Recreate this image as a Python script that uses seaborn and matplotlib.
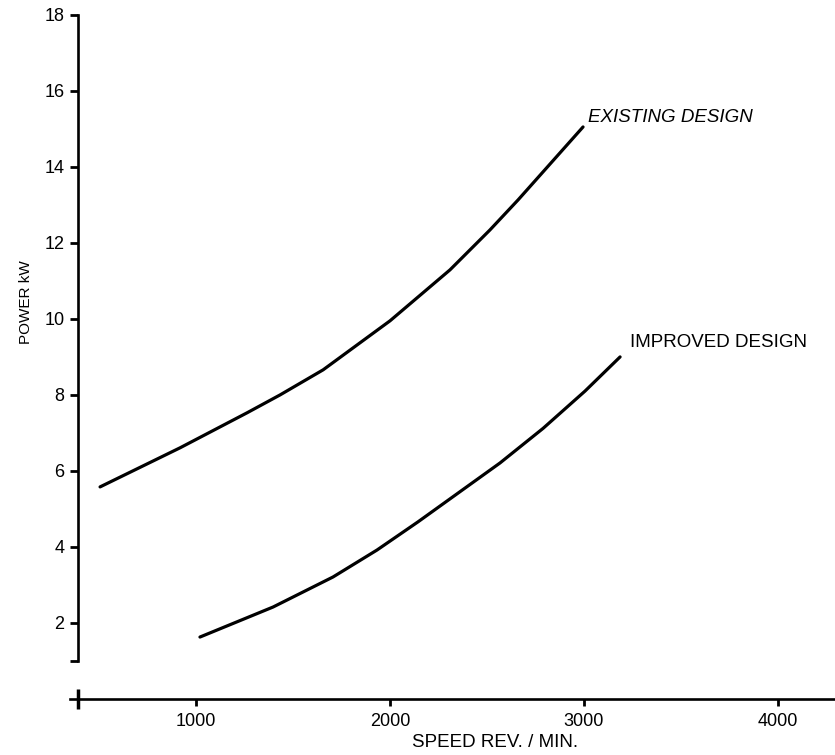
import matplotlib
matplotlib.use("Agg")
import matplotlib.pyplot as plt
import seaborn as sns
import pandas as pd

# values
existing_speed = [505, 918, 1263, 1433, 1655, 2000, 2309, 2515, 2660, 2995]
existing_power = [5.58, 6.61, 7.53, 8.0, 8.66, 9.95, 11.29, 12.34, 13.13, 15.05]

improved_speed = [1020, 1397, 1706, 1933, 2144, 2567, 2789, 3005, 3186]
improved_power = [1.63, 2.42, 3.21, 3.92, 4.66, 6.21, 7.12, 8.1, 9.0]

x_ticks = [1000, 2000, 3000, 4000]
y_ticks = [2, 4, 6, 8, 10, 12, 14, 16, 18]

existing = pd.DataFrame({"speed": existing_speed, "power": existing_power})
improved = pd.DataFrame({"speed": improved_speed, "power": improved_power})

sns.set_style("white")
plt.rcParams["font.family"] = ["Liberation Sans", "DejaVu Sans"]
plt.rcParams["text.color"] = "black"
plt.rcParams["axes.labelcolor"] = "black"

fig = plt.figure(figsize=(8.35, 7.55), dpi=100)
ax = fig.add_axes([70 / 835, 56 / 755, 765 / 835, 699 / 755])

sns.lineplot(data=existing, x="speed", y="power", color="black", linewidth=2.3, ax=ax)
sns.lineplot(data=improved, x="speed", y="power", color="black", linewidth=2.3, ax=ax)

ax.set_xlim(350, 4294)
ax.set_ylim(0, 18.39)

# axis lines
for s in ["top", "right"]:
    ax.spines[s].set_visible(False)
ax.spines["left"].set_position(("data", 390))
ax.spines["left"].set_bounds(1, 18)
ax.spines["left"].set_linewidth(1.9)
ax.spines["left"].set_color("black")
ax.spines["bottom"].set_linewidth(1.9)
ax.spines["bottom"].set_color("black")

ax.set_xticks(x_ticks)
ax.set_xticks([390], minor=True)
ax.set_yticks(y_ticks)
ax.set_yticks([1], minor=True)
ax.tick_params(axis="both", which="major", direction="out", length=6, width=2,
               labelsize=13, color="black", labelcolor="black")
ax.tick_params(axis="x", which="major", length=5, pad=5)
ax.tick_params(axis="x", which="minor", direction="inout", length=14, width=2.5, color="black")
ax.tick_params(axis="y", which="minor", direction="out", length=6, width=2, color="black")
ax.tick_params(left=True, bottom=True, which="both")

ax.set_xlabel("SPEED REV. / MIN.", fontsize=13.5)
ax.set_ylabel("POWER kW", fontsize=11)
ax.xaxis.set_label_coords(0.556, -0.05)
ax.yaxis.set_label_coords(-0.049, 0.568)

ax.text(3021, 15.29, "EXISTING DESIGN", fontsize=13.5, style="italic", va="center", ha="left")
ax.text(3237, 9.39, "IMPROVED DESIGN", fontsize=13.5, va="center", ha="left")

fig.savefig("out.png", dpi=100)
